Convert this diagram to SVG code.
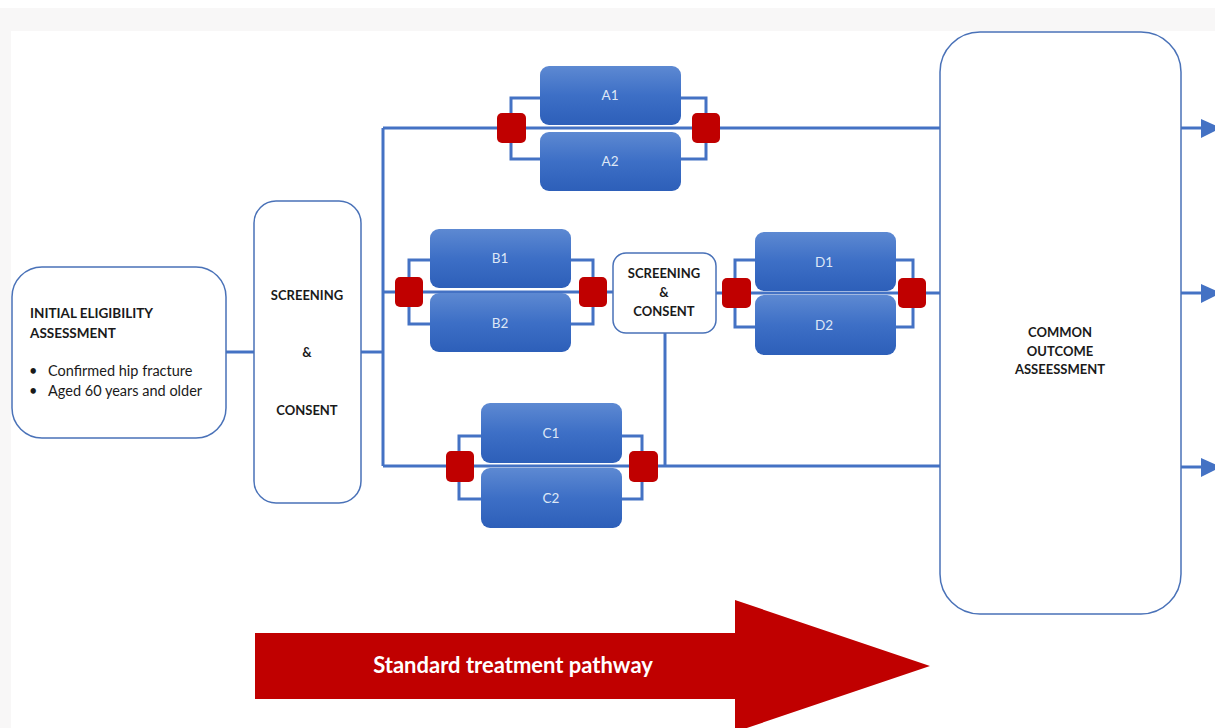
<svg xmlns="http://www.w3.org/2000/svg" width="1215" height="728" viewBox="0 0 1215 728">
<defs>
<linearGradient id="blueg" x1="0" y1="0" x2="0" y2="1">
<stop offset="0" stop-color="#5d89d2"/>
<stop offset="0.5" stop-color="#3d6fc6"/>
<stop offset="1" stop-color="#2d5fb9"/>
</linearGradient>
</defs>
<style>
.bg{fill:#f8f7f7}
.box{fill:#ffffff;stroke:#4a72b8;stroke-width:1.5}
.blk{fill:url(#blueg);stroke:none}
.red{fill:#c00000}
.ln{fill:none;stroke:#4472c4;stroke-width:3}
.ah{fill:#4472c4}
.bt{font-family:Lato,"Liberation Sans",sans-serif;font-size:13.5px;fill:#dde7f6;text-anchor:middle}
.hd{font-family:Lato,"Liberation Sans",sans-serif;font-size:13px;font-weight:bold;fill:#1a1a1a}
.hd2{font-size:13.5px}
.tx{font-family:Lato,"Liberation Sans",sans-serif;font-size:14.5px;fill:#1a1a1a}
.mid{text-anchor:middle}
.big{font-family:Lato,"Liberation Sans",sans-serif;font-size:22px;font-weight:bold;fill:#ffffff;text-anchor:middle}
</style>
<rect class="bg" x="0" y="8" width="1215" height="720"/>
<rect x="11" y="31" width="1204" height="697" fill="#ffffff"/>

<g id="connectors">
<path class="ln" d="M226 352 H254"/>
<path class="ln" d="M361 352 H383"/>
<path class="ln" d="M383 128 V466"/>
<path class="ln" d="M383 128 H940"/>
<path class="ln" d="M383 292 H613"/>
<path class="ln" d="M383 466 H940"/>
<path class="ln" d="M716 293 H940"/>
<path class="ln" d="M665 333 V466"/>
<path class="ln" d="M540 98 H511 V159 H540"/>
<path class="ln" d="M681 98 H706 V159 H681"/>
<path class="ln" d="M430 260 H409 V324 H430"/>
<path class="ln" d="M571 260 H593 V324 H571"/>
<path class="ln" d="M755 260 H735 V327 H755"/>
<path class="ln" d="M895 260 H913 V327 H895"/>
<path class="ln" d="M481 436 H459 V499 H481"/>
<path class="ln" d="M621 436 H642 V499 H621"/>
<path class="ln" d="M1181 128 H1203"/>
<path class="ln" d="M1181 293 H1203"/>
<path class="ln" d="M1181 467 H1203"/>
<polygon class="ah" points="1201,119 1221,128 1201,138"/>
<polygon class="ah" points="1201,284 1221,293 1201,303"/>
<polygon class="ah" points="1201,458 1221,467 1201,477"/>
</g>

<g id="initial">
<rect class="box" x="12" y="267" width="214" height="171" rx="30"/>
<text class="hd hd2" x="30" y="318">INITIAL ELIGIBILITY</text>
<text class="hd hd2" x="30" y="338">ASSESSMENT</text>
<text class="tx" x="29" y="376">•</text>
<text class="tx" x="48" y="376">Confirmed hip fracture</text>
<text class="tx" x="29" y="396">•</text>
<text class="tx" x="48" y="396">Aged 60 years and older</text>
</g>

<g id="screening1">
<rect class="box" x="254" y="201" width="107" height="302" rx="22"/>
<text class="hd mid" x="307" y="300">SCREENING</text>
<text class="hd mid" x="307" y="357">&amp;</text>
<text class="hd mid" x="307" y="415">CONSENT</text>
</g>

<g id="A1"><rect class="blk" x="540" y="66" width="141" height="59" rx="9"/><text class="bt" x="610" y="100">A1</text></g>
<g id="A2"><rect class="blk" x="540" y="132" width="141" height="59" rx="9"/><text class="bt" x="610" y="166">A2</text></g>
<g id="B1"><rect class="blk" x="430" y="229" width="141" height="59" rx="9"/><text class="bt" x="500" y="263">B1</text></g>
<g id="B2"><rect class="blk" x="430" y="293" width="141" height="59" rx="9"/><text class="bt" x="500" y="328">B2</text></g>
<g id="C1"><rect class="blk" x="481" y="403" width="141" height="60" rx="9"/><text class="bt" x="551" y="438">C1</text></g>
<g id="C2"><rect class="blk" x="481" y="468" width="141" height="60" rx="9"/><text class="bt" x="551" y="503">C2</text></g>
<g id="D1"><rect class="blk" x="755" y="232" width="141" height="59" rx="9"/><text class="bt" x="824" y="267">D1</text></g>
<g id="D2"><rect class="blk" x="755" y="295" width="141" height="60" rx="9"/><text class="bt" x="824" y="330">D2</text></g>

<g id="redA-left"><rect class="red" x="497" y="113" width="29" height="30" rx="5"/></g>
<g id="redA-right"><rect class="red" x="692" y="113" width="28" height="30" rx="5"/></g>
<g id="redB-left"><rect class="red" x="395" y="277" width="28" height="30" rx="5"/></g>
<g id="redB-right"><rect class="red" x="579" y="277" width="28" height="30" rx="5"/></g>
<g id="redD-left"><rect class="red" x="722" y="278" width="29" height="30" rx="5"/></g>
<g id="redD-right"><rect class="red" x="898" y="278" width="28" height="30" rx="5"/></g>
<g id="redC-left"><rect class="red" x="446" y="451" width="28" height="31" rx="5"/></g>
<g id="redC-right"><rect class="red" x="629" y="451" width="29" height="31" rx="5"/></g>

<g id="screening2">
<rect class="box" x="613" y="253" width="103" height="80" rx="13"/>
<text class="hd mid" x="664" y="278">SCREENING</text>
<text class="hd mid" x="664" y="297">&amp;</text>
<text class="hd mid" x="664" y="316">CONSENT</text>
</g>

<g id="common">
<rect class="box" x="940" y="32" width="241" height="582" rx="40"/>
<text class="hd mid" x="1060" y="337">COMMON</text>
<text class="hd mid" x="1060" y="356">OUTCOME</text>
<text class="hd mid" x="1060" y="374">ASSEESSMENT</text>
</g>

<g id="pathway">
<polygon class="red" points="255,633 735,633 735,600 930,666 735,732 735,699 255,699"/>
<text class="big" x="513" y="673">Standard treatment pathway</text>
</g>
</svg>
